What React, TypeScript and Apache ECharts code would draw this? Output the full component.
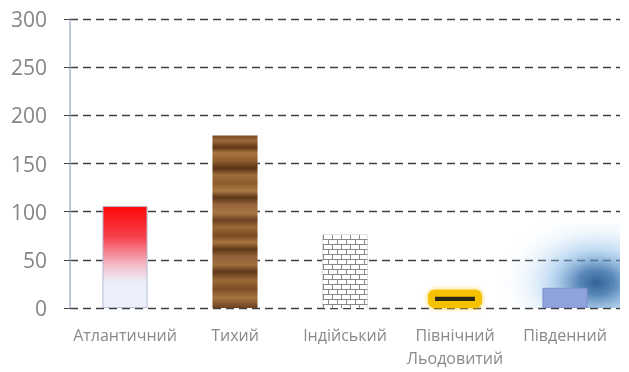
import React, { useEffect, useRef } from "react";
import * as echarts from "echarts";

const categories = ["Атлантичний", "Тихий", "Індійський", "Північний\nЛьодовитий", "Південний"];
const values = [106, 179, 76, 19, 21];
const glowValues = [null, null, null, null, 88];
const yTicks = [0, 50, 100, 150, 200, 250, 300];
const ARCTIC = 3;

export default function App() {
  const ref = useRef<HTMLDivElement>(null);
  useEffect(() => {
    if (!ref.current) return;
    const chart = echarts.init(ref.current, undefined, { renderer: "svg" });
    const font = "'Open Sans', 'DejaVu Sans', sans-serif";
    const wood = {
      type: "linear", x: 0, y: 0, x2: 0, y2: 1,
      colorStops: [
        { offset: 0, color: "#7a4a22" }, { offset: 0.03, color: "#9b6a38" },
        { offset: 0.07, color: "#5e3617" }, { offset: 0.1, color: "#a8763f" },
        { offset: 0.15, color: "#8a5a2c" }, { offset: 0.19, color: "#5a3316" },
        { offset: 0.23, color: "#a06e3a" }, { offset: 0.28, color: "#8c5b2d" },
        { offset: 0.32, color: "#ab7a44" }, { offset: 0.36, color: "#5c3517" },
        { offset: 0.4, color: "#96653a" }, { offset: 0.45, color: "#a77642" },
        { offset: 0.49, color: "#6a4120" }, { offset: 0.53, color: "#9a6a37" },
        { offset: 0.58, color: "#7b4c24" }, { offset: 0.62, color: "#a6743f" },
        { offset: 0.66, color: "#5f3819" }, { offset: 0.7, color: "#92613a" },
        { offset: 0.75, color: "#a06f3c" }, { offset: 0.79, color: "#61391a" },
        { offset: 0.84, color: "#9b6937" }, { offset: 0.89, color: "#7d4e26" },
        { offset: 0.94, color: "#a47340" }, { offset: 1, color: "#6b4220" },
      ],
    };
    const itemStyles: any[] = [
      {
        color: {
          type: "linear", x: 0, y: 0, x2: 0, y2: 1,
          colorStops: [
            { offset: 0, color: "#ff0808" },
            { offset: 0.3, color: "#f5404a" },
            { offset: 0.6, color: "#f1c4d0" },
            { offset: 0.75, color: "#eceef9" },
            { offset: 1, color: "#eef0fb" },
          ],
        },
        borderColor: "#b3bcd6",
        borderWidth: 1,
      },
      { color: wood },
      {
        color: "#8a8a8a",
        decal: {
          symbol: "rect",
          symbolSize: 1,
          color: "#ffffff",
          dashArrayX: [[8, 1], [4, 1, 4, 0]],
          dashArrayY: [4, 1],
          rotation: 0,
        },
      },
      {
        color: "#2b2518",
        borderColor: "#f6c100",
        borderWidth: 7,
        borderRadius: 3,
        shadowBlur: 5,
        shadowColor: "rgba(246,193,0,0.85)",
      },
      { color: "#8fa2dc", borderColor: "#7f93cf", borderWidth: 1 },
    ];
    chart.setOption({
      animation: false,
      grid: { left: 70, right: 9, top: 19, bottom: 64 },
      xAxis: [
        {
          type: "category",
          data: categories,
          axisLine: { show: false },
          axisTick: { show: false },
          axisLabel: {
            interval: 0,
            color: "#8a8a8a",
            fontSize: 16,
            fontFamily: font,
            margin: 15,
            lineHeight: 23,
          },
        },
        { type: "category", data: categories, show: false },
        { type: "category", data: categories, show: false },
      ],
      yAxis: {
        type: "value",
        min: 0,
        max: 300,
        interval: 50,
        axisLine: { show: true, lineStyle: { color: "#a9b4cf", width: 1.5 } },
        axisTick: { show: true, length: 7, lineStyle: { color: "#4a4a4a", type: [6, 4] } },
        axisLabel: {
          color: "#858585",
          fontSize: 21,
          fontFamily: font,
          margin: 23,
          formatter: (v: number) => (yTicks.includes(v) ? String(v) : ""),
        },
        splitLine: { show: true, lineStyle: { color: "#3f3f3f", width: 1.3, type: [8, 5] } },
      },
      series: [
        {
          type: "bar",
          xAxisIndex: 1,
          barWidth: "114%",
          z: 1,
          silent: true,
          data: glowValues,
          itemStyle: {
            color: {
              type: "radial", x: 0.8, y: 0.7, r: 0.85,
              colorStops: [
                { offset: 0, color: "rgba(40,90,145,0.95)" },
                { offset: 0.18, color: "rgba(60,115,172,0.85)" },
                { offset: 0.45, color: "rgba(125,180,228,0.5)" },
                { offset: 0.75, color: "rgba(200,225,248,0.2)" },
                { offset: 1, color: "rgba(230,240,252,0)" },
              ],
            },
          },
        },
        {
          type: "bar",
          xAxisIndex: 0,
          barWidth: "41%",
          z: 3,
          data: values.map((v, i) =>
            i === ARCTIC ? null : { value: v, itemStyle: itemStyles[i] }
          ),
        },
        {
          type: "bar",
          xAxisIndex: 2,
          barWidth: "49%",
          z: 3,
          data: values.map((v, i) =>
            i === ARCTIC ? { value: v, itemStyle: itemStyles[i] } : null
          ),
        },
      ],
    });
    return () => chart.dispose();
  }, []);
  return (
    <div
      ref={ref}
      style={{ position: "fixed", left: 0, top: 0, width: 629, height: 372 }}
    />
  );
}
